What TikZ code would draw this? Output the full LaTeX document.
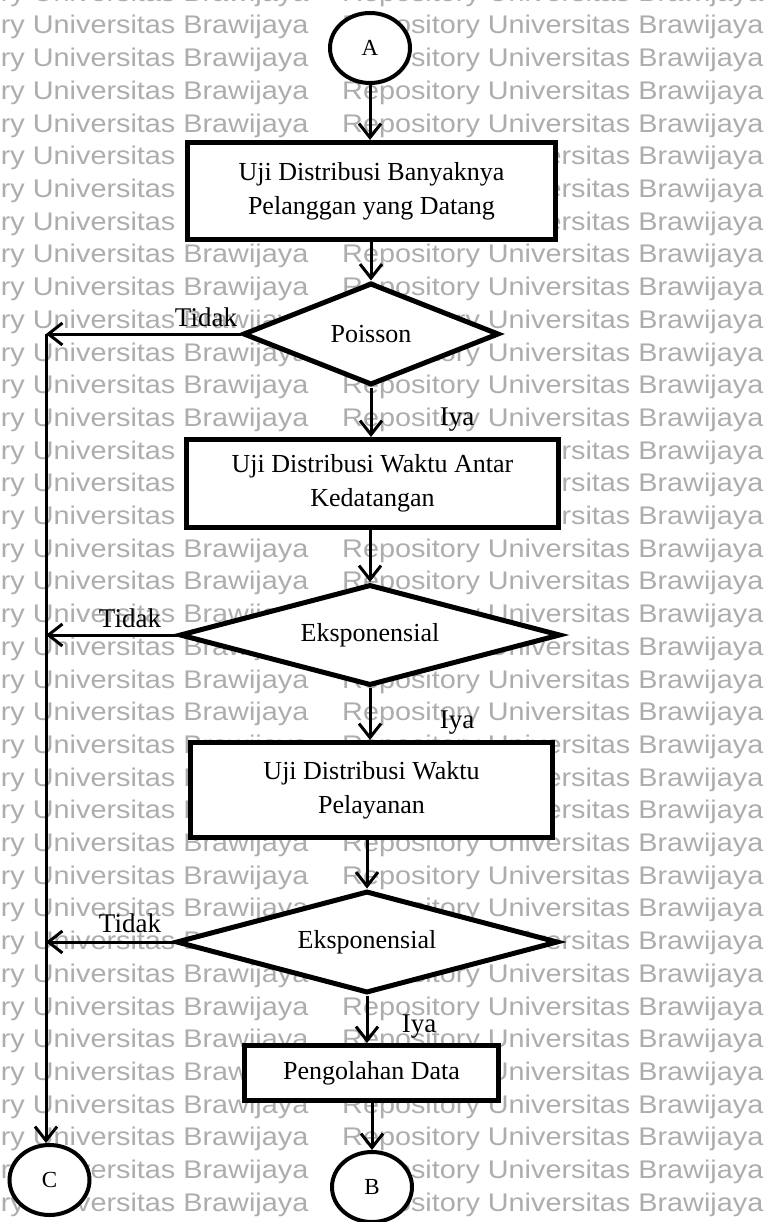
\documentclass[tikz,border=0pt]{standalone}
\usepackage{fontspec}
\usepackage{graphicx}
\setmainfont{Liberation Serif}
\newfontfamily\wmfont{Liberation Sans}
\usetikzlibrary{shapes.geometric,arrows.meta}
\begin{document}
\begin{tikzpicture}[x=1pt,y=-1pt,
  box/.style={draw,line width=5pt,fill=white,inner sep=0pt,align=center,font=\fontsize{26}{34}\selectfont},
  dec/.style={draw,diamond,line width=5pt,fill=white,inner sep=0pt,font=\fontsize{26}{34}\selectfont},
  con/.style={draw,ellipse,line width=4pt,fill=white,inner sep=0pt,minimum width=80pt,minimum height=70pt,font=\fontsize{23}{26}\selectfont},
  flow/.style={line width=3pt,-{Straight Barb[length=14pt,width=22pt,line width=3pt]}},
  lbl/.style={font=\fontsize{27}{30}\selectfont,inner sep=0pt},
  wm/.style={anchor=base west,inner sep=0pt,text=black!32,font=\wmfont\fontsize{25.5}{30}\selectfont}]
\useasboundingbox (0,0) rectangle (772,1222);
\fill[white] (0,0) rectangle (772,1222);
% watermark
\foreach \k in {-1,...,37} {
  \node[wm] (wmL\k) at (-113,{34+32.7*\k}) {\scalebox{1.13}[1]{Repository Universitas Brawijaya}};
  \node[wm] (wmR\k) at (342,{34+32.7*\k}) {\scalebox{1.13}[1]{Repository Universitas Brawijaya}};
}
% nodes
\node[con] (A) at (370,48) {A};
\node[box,minimum width=368pt,minimum height=97pt] (b1) at (371.5,191) {Uji Distribusi Banyaknya\\Pelanggan yang Datang};
\node[dec,aspect=2.5,minimum width=256pt,minimum height=102pt] (d1) at (371,334) {Poisson};
\node[box,minimum width=372pt,minimum height=88pt] (b2) at (372.5,483.5) {Uji Distribusi Waktu Antar\\Kedatangan};
\node[dec,aspect=3.77,minimum width=381pt,minimum height=101pt] (d2) at (370,635) {Eksponensial};
\node[box,minimum width=362pt,minimum height=95pt] (b3) at (371.5,790) {Uji Distribusi Waktu\\Pelayanan};
\node[dec,aspect=3.75,minimum width=382pt,minimum height=102pt] (d3) at (367,942) {Eksponensial};
\node[box,minimum width=254pt,minimum height=55pt] (b4) at (371.5,1073) {Pengolahan Data};
\node[con] (B) at (372,1187) {B};
\node[con] (C) at (49.5,1180) {C};
\coordinate (j1) at (46,334);
\coordinate (j2) at (46,635);
\coordinate (j3) at (46,942);
% connectors
\draw[flow] (A.south) -- (A.south |- b1.north);
\draw[flow] (d1.north |- b1.south) -- (d1.north);
\draw[flow] (d1.south) -- (d1.south |- b2.north);
\draw[flow] (d2.north |- b2.south) -- (d2.north);
\draw[flow] (d2.south) -- (d2.south |- b3.north);
\draw[flow] (d3.north |- b3.south) -- (d3.north);
\draw[flow] (d3.south) -- (d3.south |- b4.north);
\draw[flow] (B.north |- b4.south) -- (B.north);
\draw[flow] (d1.west) -- (j1);
\draw[flow] (d2.west) -- (j2);
\draw[flow] (d3.west) -- (j3);
\draw[flow] (j1) -- (j1 |- C.north);
% labels
\node[lbl] (t1) at (206,317) {Tidak};
\node[lbl] (t2) at (130,618) {Tidak};
\node[lbl] (t3) at (130,923) {Tidak};
\node[lbl] (y1) at (457,420) {Iya};
\node[lbl] (y2) at (457,723) {Iya};
\node[lbl] (y3) at (419,1027) {Iya};
\end{tikzpicture}
\end{document}
